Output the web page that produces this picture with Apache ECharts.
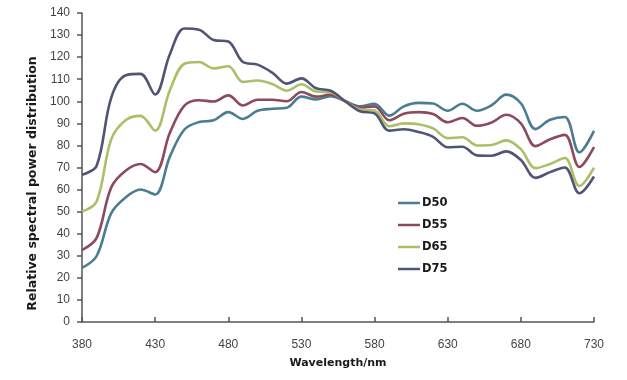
<!DOCTYPE html>
<html>
<head>
<meta charset="utf-8">
<script src="https://cdn.jsdelivr.net/npm/echarts@6/dist/echarts.min.js"></script>
<style>html,body{margin:0;padding:0;background:#fff}#c{width:627px;height:380px}</style>
</head>
<body>
<div id="c"></div>
<script>
var wavelengths = [380,390,400,410,420,430,440,450,460,470,480,490,500,510,520,530,540,550,560,570,580,590,600,610,620,630,640,650,660,670,680,690,700,710,720,730];
var seriesNames = ['D50','D55','D65','D75'];
var d50 = [24.5,29.9,49.3,56.5,60.0,57.8,74.8,87.2,90.6,91.4,95.1,92.0,95.7,96.6,97.1,102.1,100.8,102.3,100.0,97.7,98.9,93.5,97.7,99.3,99.0,95.7,98.9,95.7,98.2,103.0,99.1,87.4,91.6,92.9,76.9,86.6];
var d55 = [32.6,38.1,61.0,68.6,71.6,67.9,85.6,98.0,100.5,99.9,102.7,98.1,100.7,100.7,100.0,104.2,102.1,103.0,100.0,97.2,97.7,91.4,94.4,95.1,94.2,90.5,92.4,88.9,90.4,93.9,90.0,79.7,82.8,84.8,70.2,79.3];
var d65 = [50.0,54.6,82.8,91.5,93.4,86.7,104.9,117.0,117.8,114.9,115.9,108.8,109.4,107.8,104.8,107.7,104.4,104.0,100.0,96.3,95.8,88.7,90.0,89.6,87.7,83.3,83.7,80.0,80.2,82.3,78.3,69.7,71.6,74.3,61.6,69.9];
var d75 = [66.7,70.8,101.7,111.8,112.4,103.1,121.2,133.0,132.4,127.8,127.1,117.8,116.6,113.0,108.0,110.4,105.9,104.8,100.0,95.5,94.5,86.7,87.3,86.1,83.9,79.2,79.4,75.5,75.3,77.3,73.4,65.3,67.9,70.0,58.3,65.9];
var xTicks = [380,430,480,530,580,630,680,730];
var yTicks = [0,10,20,30,40,50,60,70,80,90,100,110,120,130,140];

var colors = ['#4a7d93','#8e4a5c','#a9c068','#515575'];
var values = [d50,d55,d65,d75];

function pairs(v){ return wavelengths.map(function(w,i){ return [w, v[i]]; }); }

var chart = echarts.init(document.getElementById('c'), null, {renderer:'canvas'});
var font = '"Liberation Sans", Arial, sans-serif';
var boldFont = '"DejaVu Sans", Verdana, sans-serif';
chart.setOption({
  animation: false,
  backgroundColor: '#fff',
  grid: {left: 82, right: 33, top: 13, bottom: 58},
  legend: {
    orient: 'vertical', left: 393, top: 192, itemWidth: 22, itemHeight: 14, itemGap: 10,
    icon: 'path://M0,6.5H22V9H0Z',
    data: seriesNames,
    textStyle: {fontFamily: boldFont, fontWeight: 'bold', fontSize: 11.5, color: '#1a1a1a', padding: [0,0,0,-3]}
  },
  xAxis: {
    type: 'value', min: xTicks[0], max: xTicks[xTicks.length-1], interval: 50,
    name: 'Wavelength/nm', nameLocation: 'middle', nameGap: 36,
    nameTextStyle: {fontFamily: boldFont, fontWeight: 'bold', fontSize: 11, color: '#1a1a1a'},
    axisLine: {lineStyle: {color: '#555', width: 1.5}},
    axisTick: {show: true, inside: true, length: 5, lineStyle: {color: '#555', width: 1.5}},
    axisLabel: {fontFamily: font, fontSize: 12, color: '#444', margin: 17},
    splitLine: {show: false}
  },
  yAxis: {
    type: 'value', min: yTicks[0], max: yTicks[yTicks.length-1], interval: 10,
    name: 'Relative spectral power distribution', nameLocation: 'middle', nameGap: 43,
    nameTextStyle: {fontFamily: boldFont, fontWeight: 'bold', fontSize: 12.5, color: '#1a1a1a', padding: [0,32,0,0]},
    axisLine: {show: true, lineStyle: {color: '#555', width: 1.5}},
    axisTick: {show: true, length: 5, lineStyle: {color: '#555', width: 1.5}},
    axisLabel: {fontFamily: font, fontSize: 12, color: '#444', margin: 12},
    splitLine: {show: false}
  },
  series: seriesNames.map(function(n, i){
    return {
      name: n, type: 'line', data: pairs(values[i]), smooth: 0.35, symbol: 'none',
      color: colors[i],
      lineStyle: {width: 2.6, color: colors[i]}
    };
  })
});
</script>
</body>
</html>
